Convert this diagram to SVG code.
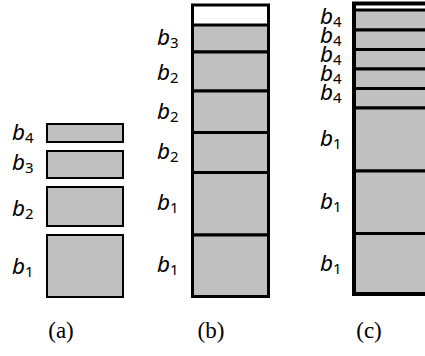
<svg xmlns="http://www.w3.org/2000/svg" width="425" height="356" viewBox="0 0 425 356">
<style>
.blk{fill:#c0c0c0;stroke:#000;stroke-width:2}
.blk3{fill:#c0c0c0;stroke:#000;stroke-width:3}
.outer{fill:none;stroke:#000;stroke-width:3}
.outer4{fill:none;stroke:#000;stroke-width:4}
.top{fill:#fff;stroke:#000;stroke-width:2}
.lbl{font-family:"Noto Sans","DejaVu Sans",sans-serif;font-style:italic;font-size:22.5px;fill:#000}
.sub{font-style:normal;font-size:15px}
.cap{font-family:"Liberation Serif","DejaVu Serif",serif;font-size:23px;fill:#000;text-anchor:middle}
</style>
<rect width="425" height="356" fill="#fff"/>
<g id="panel-a">
<rect class="blk" x="47" y="124" width="76" height="18"/>
<rect class="blk" x="47" y="151" width="76" height="27"/>
<rect class="blk" x="47" y="187" width="76" height="39"/>
<rect class="blk" x="47" y="235" width="76" height="62"/>
<text class="lbl" x="12" y="140">b<tspan class="sub" dy="2.5">4</tspan></text>
<text class="lbl" x="12" y="170">b<tspan class="sub" dy="2.5">3</tspan></text>
<text class="lbl" x="12" y="216">b<tspan class="sub" dy="2.5">2</tspan></text>
<text class="lbl" x="12" y="274">b<tspan class="sub" dy="2.5">1</tspan></text>
</g>
<g id="panel-b">
<rect class="top" x="192.5" y="5" width="76" height="20"/>
<rect class="blk3" x="192.5" y="25" width="76" height="27"/>
<rect class="blk3" x="192.5" y="52" width="76" height="39"/>
<rect class="blk3" x="192.5" y="91" width="76" height="41.5"/>
<rect class="blk3" x="192.5" y="132.5" width="76" height="40"/>
<rect class="blk3" x="192.5" y="172.5" width="76" height="62.5"/>
<rect class="blk3" x="192.5" y="235" width="76" height="61.5"/>
<rect class="outer" x="192.5" y="5" width="76" height="291.5"/>
<text class="lbl" x="157" y="45">b<tspan class="sub" dy="2.5">3</tspan></text>
<text class="lbl" x="157" y="80">b<tspan class="sub" dy="2.5">2</tspan></text>
<text class="lbl" x="157" y="119">b<tspan class="sub" dy="2.5">2</tspan></text>
<text class="lbl" x="157" y="159">b<tspan class="sub" dy="2.5">2</tspan></text>
<text class="lbl" x="157" y="210">b<tspan class="sub" dy="2.5">1</tspan></text>
<text class="lbl" x="157" y="272">b<tspan class="sub" dy="2.5">1</tspan></text>
</g>
<g id="panel-c">
<rect class="top" x="354" y="3.5" width="100" height="6.5"/>
<rect class="blk3" x="354" y="10" width="100" height="20"/>
<rect class="blk3" x="354" y="30" width="100" height="19.5"/>
<rect class="blk3" x="354" y="49.5" width="100" height="19.5"/>
<rect class="blk3" x="354" y="69" width="100" height="19.5"/>
<rect class="blk3" x="354" y="88.5" width="100" height="19.5"/>
<rect class="blk3" x="354" y="108" width="100" height="63"/>
<rect class="blk3" x="354" y="171" width="100" height="62.5"/>
<rect class="blk3" x="354" y="233.5" width="100" height="60.5"/>
<rect class="outer4" x="354" y="3.5" width="100" height="290.5"/>
<text class="lbl" x="320" y="24">b<tspan class="sub" dy="2.5">4</tspan></text>
<text class="lbl" x="320" y="43">b<tspan class="sub" dy="2.5">4</tspan></text>
<text class="lbl" x="320" y="62">b<tspan class="sub" dy="2.5">4</tspan></text>
<text class="lbl" x="320" y="81">b<tspan class="sub" dy="2.5">4</tspan></text>
<text class="lbl" x="320" y="100">b<tspan class="sub" dy="2.5">4</tspan></text>
<text class="lbl" x="320" y="146">b<tspan class="sub" dy="2.5">1</tspan></text>
<text class="lbl" x="320" y="209">b<tspan class="sub" dy="2.5">1</tspan></text>
<text class="lbl" x="320" y="271">b<tspan class="sub" dy="2.5">1</tspan></text>
</g>
<g id="captions">
<text class="cap" x="61" y="338">(a)</text>
<text class="cap" x="211" y="338">(b)</text>
<text class="cap" x="369" y="338">(c)</text>
</g>
</svg>
